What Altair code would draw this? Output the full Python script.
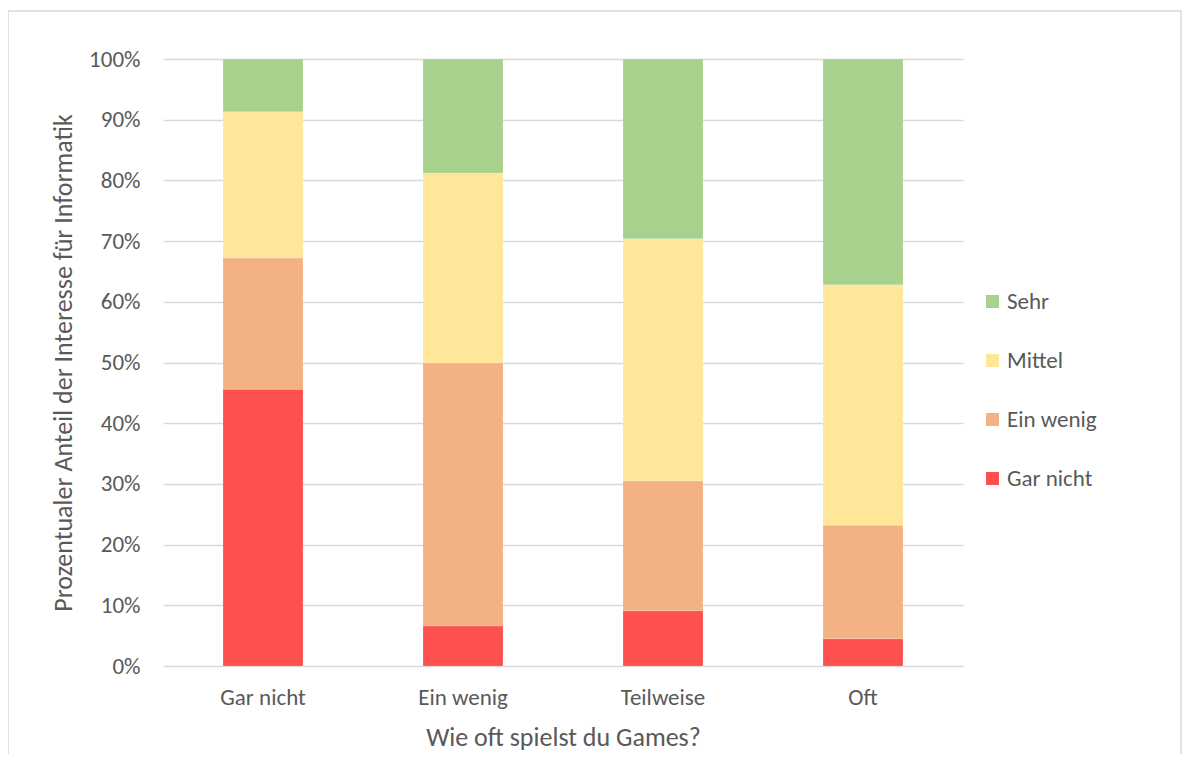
import altair as alt
import pandas as pd

groups = ["Gar nicht", "Ein wenig", "Teilweise", "Oft"]
levels = ["Gar nicht", "Ein wenig", "Mittel", "Sehr"]
gar_nicht = [45.6, 6.6, 9.1, 4.5]
ein_wenig = [21.6, 43.3, 21.4, 18.7]
mittel = [24.1, 31.3, 39.9, 39.6]
sehr = [8.7, 18.8, 29.6, 37.2]
y_ticks = [0, 0.1, 0.2, 0.3, 0.4, 0.5, 0.6, 0.7, 0.8, 0.9, 1.0]

series = {"Gar nicht": gar_nicht, "Ein wenig": ein_wenig, "Mittel": mittel, "Sehr": sehr}
rows = []
for li, lev in enumerate(levels):
    for gi, g in enumerate(groups):
        rows.append({"Gruppe": g, "Interesse": lev, "Wert": series[lev][gi], "idx": li})
df = pd.DataFrame(rows)

FONT = "Carlito, Lato"
TXT = "#595959"
GRID = "#D9D9D9"

bars = alt.Chart(df).mark_bar(stroke="white", strokeWidth=0.5, strokeOpacity=0.3).encode(
    x=alt.X("Gruppe:N", sort=groups,
            scale=alt.Scale(paddingInner=0.6, paddingOuter=0.3),
            axis=alt.Axis(title="Wie oft spielst du Games?", labelAngle=0,
                          domain=False, ticks=False, labelPadding=20,
                          titlePadding=15)),
    y=alt.Y("Wert:Q", stack="normalize",
            scale=alt.Scale(domain=[0, 1], nice=False),
            axis=alt.Axis(title="Prozentualer Anteil der Interesse für Informatik",
                          format=".0%", values=y_ticks, labelOverlap=False,
                          domain=False, ticks=False, labelPadding=23,
                          titlePadding=12)),
    color=alt.Color("Interesse:N",
                    scale=alt.Scale(domain=["Sehr", "Mittel", "Ein wenig", "Gar nicht"],
                                    range=["#A9D18E", "#FFE699", "#F4B183", "#FF5050"]),
                    legend=alt.Legend(title=None, orient="none", legendX=818, legendY=231,
                                      symbolType="square", symbolSize=169,
                                      symbolStrokeWidth=0, rowPadding=35,
                                      labelFontSize=23, labelColor=TXT, labelFont=FONT,
                                      labelOffset=3, padding=0)),
    order=alt.Order("idx:Q", sort="ascending"),
)

border = alt.Chart(alt.Data(values=[{"a": 1}])).mark_rect(
    fill=None, stroke=GRID, strokeWidth=1.5
).encode(
    x=alt.value(-155), x2=alt.value(1018), y=alt.value(-48), y2=alt.value(720)
)

chart = alt.layer(border, bars).properties(
    width=800, height=607,
    autosize=alt.AutoSizeParams(type="none"),
    padding={"left": 155, "top": 51, "right": 219, "bottom": 88},
).configure_view(stroke=None).configure_axis(
    labelFont=FONT, titleFont=FONT, labelColor=TXT, titleColor=TXT,
    labelFontSize=23, titleFontSize=26, titleFontWeight="normal",
    gridColor=GRID, gridWidth=1.5,
).configure_axisX(grid=False)

chart.save("out.html", embed_options={"renderer": "svg", "actions": False})
